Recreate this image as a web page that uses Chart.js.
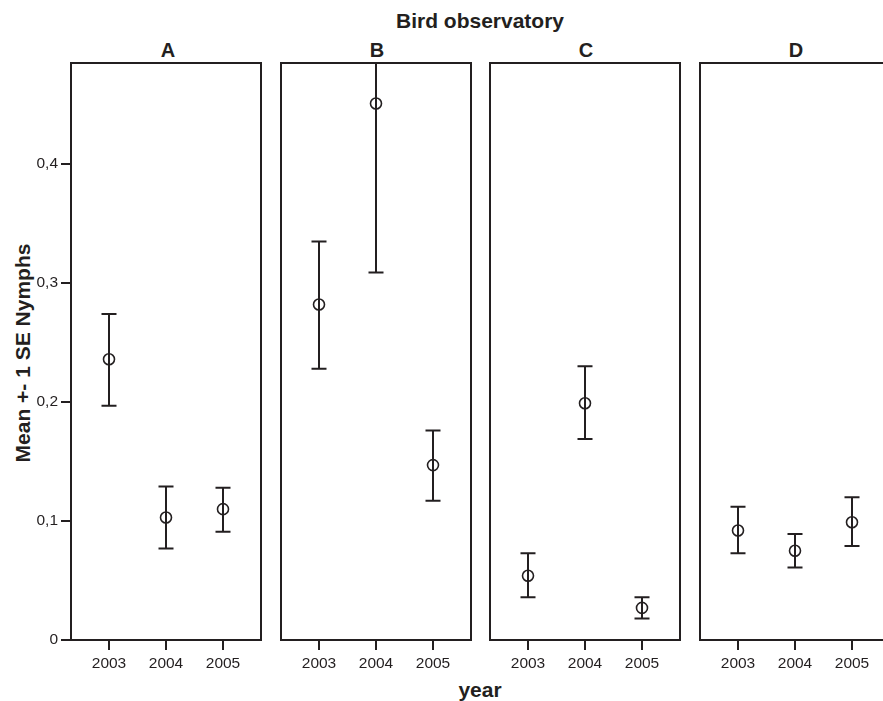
<!DOCTYPE html>
<html>
<head>
<meta charset="utf-8">
<script src="https://cdn.jsdelivr.net/npm/chart.js@4/dist/chart.umd.min.js"></script>
<style>
  html, body { margin: 0; padding: 0; background: #fff; overflow: hidden; }
  body { width: 883px; height: 701px; position: relative; font-family: "Liberation Sans", Arial, sans-serif; color: #231f20; }
  .panel { position: absolute; top: 58px; height: 622px; }
  .txt { position: absolute; font-weight: bold; white-space: nowrap; transform: translate(-50%, -50%); line-height: 1; }
</style>
</head>
<body>
<div class="txt" style="left:480px; top:20px; font-size:21px;">Bird observatory</div>
<div class="txt" style="left:168px; top:50px; font-size:20px;">A</div>
<div class="txt" style="left:377px; top:50px; font-size:20px;">B</div>
<div class="txt" style="left:586px; top:50px; font-size:20px;">C</div>
<div class="txt" style="left:796px; top:50px; font-size:20px;">D</div>
<div class="txt" style="left:480px; top:689px; font-size:21px;">year</div>
<div class="txt" style="left:22px; top:353px; font-size:21px; transform: translate(-50%, -50%) rotate(-90deg);">Mean +- 1 SE Nymphs</div>

<div class="panel" style="left:0px; width:262px;"><canvas id="pA"></canvas></div>
<div class="panel" style="left:276px; width:200px;"><canvas id="pB"></canvas></div>
<div class="panel" style="left:485px; width:201px;"><canvas id="pC"></canvas></div>
<div class="panel" style="left:695px; width:200px;"><canvas id="pD"></canvas></div>

<script>
// du lieu
const nam = [2003, 2004, 2005];
const yTicks = [0, 0.1, 0.2, 0.3, 0.4];

const meanA = [0.236, 0.103, 0.110];
const loA   = [0.197, 0.077, 0.091];
const hiA   = [0.274, 0.129, 0.128];

const meanB = [0.282, 0.451, 0.147];
const loB   = [0.228, 0.309, 0.117];
const hiB   = [0.335, 0.593, 0.176];

const meanC = [0.054, 0.199, 0.027];
const loC   = [0.036, 0.169, 0.018];
const hiC   = [0.073, 0.230, 0.036];

const meanD = [0.092, 0.075, 0.099];
const loD   = [0.073, 0.061, 0.079];
const hiD   = [0.112, 0.089, 0.120];

const den = "#231f20";
const fontTick = { family: "'Liberation Sans', Arial, sans-serif", size: 15.5 };

// ve error bar + khung
const errorBarPlugin = {
    id: "errorBars",
    beforeDatasetsDraw(chart) {
        const ctx = chart.ctx;
        const area = chart.chartArea;
        const xs = chart.scales.x;
        const ys = chart.scales.y;
        const lo = chart.config.options.plugins.errorBars.lo;
        const hi = chart.config.options.plugins.errorBars.hi;
        ctx.save();
        ctx.beginPath();
        ctx.rect(area.left, area.top, area.right - area.left, area.bottom - area.top);
        ctx.clip();
        ctx.strokeStyle = den;
        ctx.lineWidth = 2;
        for (let i = 0; i < nam.length; i++) {
            const x = xs.getPixelForValue(nam[i]);
            const y1 = ys.getPixelForValue(lo[i]);
            const y2 = ys.getPixelForValue(hi[i]);
            ctx.beginPath();
            ctx.moveTo(x, y1); ctx.lineTo(x, y2);
            ctx.moveTo(x - 7.5, y1); ctx.lineTo(x + 7.5, y1);
            ctx.moveTo(x - 7.5, y2); ctx.lineTo(x + 7.5, y2);
            ctx.stroke();
        }
        ctx.restore();
    },
    afterDraw(chart) {
        const ctx = chart.ctx;
        const a = chart.chartArea;
        ctx.save();
        ctx.strokeStyle = den;
        ctx.lineWidth = 2;
        ctx.strokeRect(a.left, a.top, a.right - a.left, a.bottom - a.top);
        ctx.restore();
    }
};

function boPadding(s) {
    s.paddingTop = 0; s.paddingBottom = 0; s.paddingLeft = 0; s.paddingRight = 0;
}

function vePanel(id, mean, lo, hi, coTrucY, padLeft, padRight) {
    const ctx = document.getElementById(id).getContext("2d");
    new Chart(ctx, {
        type: "scatter",
        data: {
            datasets: [{
                data: nam.map((n, i) => ({ x: n, y: mean[i] })),
                pointStyle: "circle",
                pointRadius: 5.5,
                pointBorderWidth: 1.6,
                pointBorderColor: den,
                pointBackgroundColor: "rgba(0,0,0,0)",
                showLine: false
            }]
        },
        options: {
            responsive: true,
            maintainAspectRatio: false,
            animation: false,
            layout: { autoPadding: false, padding: { top: 5, bottom: 0, left: padLeft, right: padRight } },
            plugins: {
                legend: { display: false },
                tooltip: { enabled: false },
                errorBars: { lo: lo, hi: hi }
            },
            scales: {
                x: {
                    type: "linear",
                    min: 2002 + 1 / 3,
                    max: 2005 + 2 / 3,
                    afterBuildTicks: s => { s.ticks = nam.map(v => ({ value: v })); },
                    afterFit: s => { s.height = 40; boPadding(s); },
                    border: { display: false },
                    grid: { drawOnChartArea: false, drawTicks: true, tickLength: 10, color: den, lineWidth: 2 },
                    ticks: { color: den, font: fontTick, padding: 4, maxRotation: 0, callback: v => String(v) }
                },
                y: {
                    display: coTrucY,
                    min: 0,
                    max: 0.485,
                    afterBuildTicks: s => { s.ticks = yTicks.map(v => ({ value: v })); },
                    afterFit: s => { s.width = coTrucY ? 71 : 0; boPadding(s); },
                    border: { display: false },
                    grid: { drawOnChartArea: false, drawTicks: true, tickLength: 10, color: den, lineWidth: 2 },
                    ticks: { color: den, font: fontTick, padding: 3,
                        callback: v => v === 0 ? "0" : v.toFixed(1).replace(".", ",") }
                }
            }
        },
        plugins: [errorBarPlugin]
    });
}

vePanel("pA", meanA, loA, hiA, true, 0, 1);
vePanel("pB", meanB, loB, hiB, false, 5, 5);
vePanel("pC", meanC, loC, hiC, false, 5, 6);
vePanel("pD", meanD, loD, hiD, false, 5, 5);
</script>
</body>
</html>
